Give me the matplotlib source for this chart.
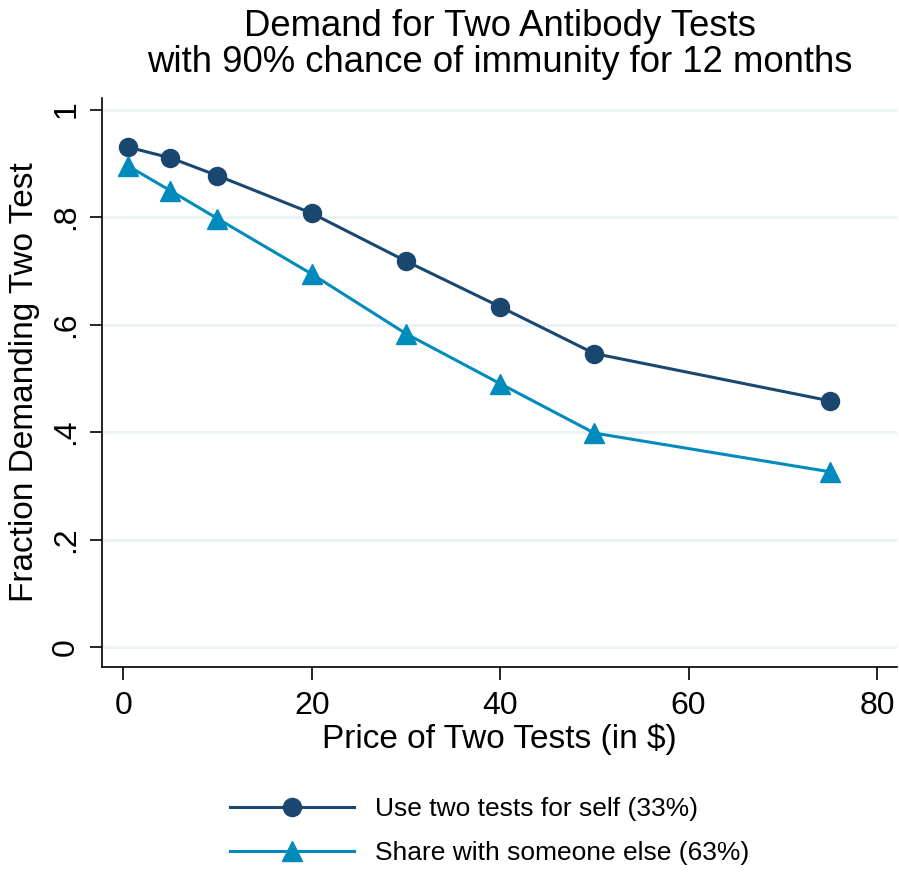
import matplotlib
matplotlib.use("Agg")
import matplotlib.pyplot as plt

plt.rcParams['font.family'] = ['Liberation Sans', 'DejaVu Sans']

# Data
price = [0.5, 5, 10, 20, 30, 40, 50, 75]
self_use = [0.930, 0.910, 0.877, 0.807, 0.718, 0.633, 0.546, 0.458]
share = [0.895, 0.849, 0.797, 0.694, 0.583, 0.490, 0.398, 0.326]
labels = ["Use two tests for self (33%)", "Share with someone else (63%)"]
yticks = [0, 0.2, 0.4, 0.6, 0.8, 1]
ytick_labels = ["0", ".2", ".4", ".6", ".8", "1"]
xticks = [0, 20, 40, 60, 80]

navy = "#1a476f"
ebblue = "#008bbc"
W, H = 899, 873

fig = plt.figure(figsize=(W / 100, H / 100), dpi=100)
ax = fig.add_axes([102 / W, 1 - 667 / H, 795 / W, 569 / H])

ax.plot(price, self_use, color=navy, lw=2.2, marker='o', ms=13, label=labels[0])
ax.plot(price, share, color=ebblue, lw=2.2, marker='^', ms=15, label=labels[1])

ax.set_xlim(-2.26, 82.13)
ax.set_ylim(-0.0372, 1.0214)
ax.set_xticks(xticks)
ax.set_yticks(yticks)
ax.set_yticklabels(ytick_labels, rotation=90, va='center')
ax.tick_params(axis='both', labelsize=23, length=9, width=1.2)
ax.tick_params(axis='x', pad=8)
ax.tick_params(axis='y', pad=6)
ax.grid(axis='y', color='#eaf2f3', lw=2)
ax.set_axisbelow(True)
for s in ['top', 'right']:
    ax.spines[s].set_visible(False)
for s in ['left', 'bottom']:
    ax.spines[s].set_linewidth(1.2)

ax.set_xlabel("Price of Two Tests (in $)", fontsize=24, labelpad=2)
ax.set_ylabel("Fraction Demanding Two Test", fontsize=24, labelpad=8)

fig.text(500 / W, 1 - 26 / H, "Demand for Two Antibody Tests", ha='center', va='center', fontsize=26.3)
fig.text(500 / W, 1 - 63 / H, "with 90% chance of immunity for 12 months", ha='center', va='center', fontsize=26.3)

fig.legend(loc='center', bbox_to_anchor=(490 / W, 1 - 831 / H), frameon=False,
           fontsize=19, handlelength=4.7, handletextpad=0.8, labelspacing=0.75,
           borderpad=0, ncol=1)

fig.savefig("out.png", dpi=100, facecolor='white')
